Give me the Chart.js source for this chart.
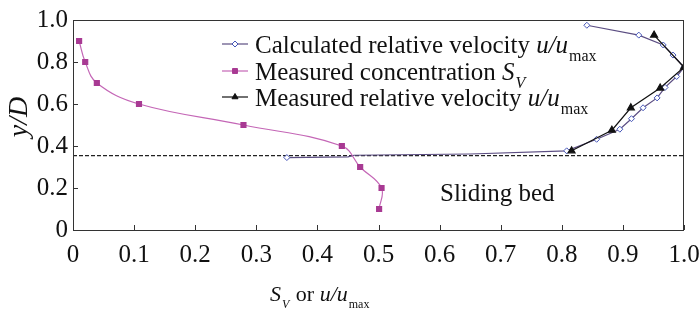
<!DOCTYPE html>
<html>
<head>
<meta charset="utf-8">
<script src="https://cdn.jsdelivr.net/npm/chart.js@4/dist/chart.umd.min.js"></script>
<style>
  html, body { margin: 0; padding: 0; background: #fff; }
  #wrap { width: 700px; height: 311px; }
</style>
</head>
<body>
<div id="wrap"><canvas id="profileChart"></canvas></div>
<script>
// measured concentration S_V vs y/D
const concX = [0.01, 0.02, 0.039, 0.108, 0.279, 0.44, 0.47, 0.505, 0.501];
const concY = [0.9, 0.8, 0.7, 0.6, 0.5, 0.4, 0.3, 0.2, 0.1];

// calculated relative velocity u/umax (points without marker are only on the line)
const calcX = [0.35, 0.45, 0.46, 0.65, 0.808, 0.857, 0.895, 0.914, 0.933, 0.956, 0.969, 0.988, 1.0, 0.982, 0.966, 0.926, 0.841];
const calcY = [0.345, 0.348, 0.356, 0.362, 0.377, 0.432, 0.48, 0.53, 0.582, 0.629, 0.679, 0.731, 0.775, 0.833, 0.881, 0.928, 0.975];
const calcMarker = [1, 0, 0, 0, 1, 1, 1, 1, 1, 1, 1, 1, 1, 1, 1, 1, 1];

// measured relative velocity u/umax
const measX = [0.816, 0.882, 0.913, 0.961, 1.0, 0.951];
const measY = [0.377, 0.475, 0.582, 0.676, 0.775, 0.928];

// sliding bed boundary
const bedLevel = 0.354;

const xTicks = [0, 0.1, 0.2, 0.3, 0.4, 0.5, 0.6, 0.7, 0.8, 0.9, 1.0];
const yTicks = [0, 0.2, 0.4, 0.6, 0.8, 1.0];

const SERIF = '"Liberation Serif", "DejaVu Serif", serif';
const pts = (xs, ys) => xs.map((x, i) => ({x: x, y: ys[i]}));

// draw text runs: plain / italic / subscript
function drawRuns(ctx, runs, x, y, size, subRatio) {
  const k = subRatio || 0.62;
  ctx.textBaseline = 'alphabetic';
  ctx.textAlign = 'left';
  runs.forEach(r => {
    const s = r.sub ? Math.round(size * k) : size;
    ctx.font = (r.i ? 'italic ' : '') + s + 'px ' + SERIF;
    ctx.fillText(r.t, x, y + (r.sub ? size * 0.3 : 0));
    x += ctx.measureText(r.t).width + (r.i ? 1 : 0);
  });
}

const decor = {
  id: 'decor',
  afterDraw(chart) {
    const ctx = chart.ctx;
    const a = chart.chartArea;
    const xs = chart.scales.x, ys = chart.scales.y;
    ctx.save();
    // box
    ctx.strokeStyle = '#333';
    ctx.lineWidth = 1;
    ctx.strokeRect(a.left + 0.5, a.top + 0.5, a.right - a.left - 1, a.bottom - a.top);
    // inward ticks
    ctx.beginPath();
    xTicks.forEach(v => {
      const px = Math.round(xs.getPixelForValue(v)) + 0.5;
      ctx.moveTo(px, a.bottom); ctx.lineTo(px, a.bottom - 5);
    });
    yTicks.forEach(v => {
      const py = Math.round(ys.getPixelForValue(v)) + 0.5;
      ctx.moveTo(a.left, py); ctx.lineTo(a.left + 5, py);
    });
    ctx.stroke();

    ctx.fillStyle = '#111';
    // sliding bed label
    drawRuns(ctx, [{t: 'Sliding bed'}], 440, 201, 25);

    // legend
    const rows = [
      {ds: 0, y: 44, runs: [{t: 'Calculated relative velocity '}, {t: 'u/u', i: true}, {t: 'max', sub: true}]},
      {ds: 1, y: 71, runs: [{t: 'Measured concentration '}, {t: 'S', i: true}, {t: 'V', i: true, sub: true}]},
      {ds: 2, y: 97, runs: [{t: 'Measured relative velocity '}, {t: 'u/u', i: true}, {t: 'max', sub: true}]}
    ];
    rows.forEach(r => {
      const d = chart.data.datasets[r.ds];
      ctx.strokeStyle = d.borderColor;
      ctx.lineWidth = 1.2;
      ctx.beginPath();
      ctx.moveTo(222, r.y); ctx.lineTo(248, r.y);
      ctx.stroke();
      ctx.fillStyle = d.pointBackgroundColor;
      ctx.strokeStyle = d.pointBorderColor;
      ctx.lineWidth = 1;
      Chart.helpers.drawPoint(ctx, {pointStyle: d.pointStyle, radius: d.legendRadius, borderWidth: 1}, 235, r.y);
      ctx.fillStyle = '#111';
      drawRuns(ctx, r.runs, 255, r.y + 9, 25);
    });

    // axis titles
    drawRuns(ctx, [{t: 'S', i: true}, {t: 'V', i: true, sub: true}, {t: ' or '}, {t: 'u/u', i: true}, {t: 'max', sub: true}], 270, 301, 22, 0.55);
    ctx.translate(27, 117);
    ctx.rotate(-Math.PI / 2);
    ctx.textAlign = 'center';
    ctx.font = 'italic 28px ' + SERIF;
    ctx.fillText('y/D', 0, 0);
    ctx.restore();
  }
};

new Chart(document.getElementById('profileChart'), {
  type: 'scatter',
  data: {
    datasets: [
      {
        label: 'Calculated relative velocity',
        data: pts(calcX, calcY),
        showLine: true,
        borderColor: '#5b4d82',
        borderWidth: 1.2,
        pointStyle: 'rectRot',
        pointRadius: ctx => calcMarker[ctx.dataIndex] ? 3 : 0,
        legendRadius: 3,
        pointBackgroundColor: '#ffffff',
        pointBorderColor: '#4656b8',
        pointBorderWidth: 1,
        order: 2
      },
      {
        label: 'Measured concentration',
        data: pts(concX, concY),
        showLine: true,
        tension: 0.4,
        borderColor: '#c466b6',
        borderWidth: 1.2,
        pointStyle: 'rect',
        pointRadius: 3.5,
        legendRadius: 3.5,
        pointBackgroundColor: '#a83a93',
        pointBorderColor: '#a83a93',
        order: 1
      },
      {
        label: 'Measured relative velocity',
        data: pts(measX, measY),
        showLine: true,
        borderColor: '#111111',
        borderWidth: 1.2,
        pointStyle: 'triangle',
        pointRadius: 4,
        legendRadius: 3.5,
        pointBackgroundColor: '#111111',
        pointBorderColor: '#111111',
        order: 0
      },
      {
        label: 'bed',
        data: [{x: 0, y: bedLevel}, {x: 1, y: bedLevel}],
        showLine: true,
        borderColor: '#222',
        borderWidth: 1.2,
        borderDash: [4, 2],
        pointRadius: 0,
        order: 3
      }
    ]
  },
  options: {
    responsive: true,
    maintainAspectRatio: false,
    animation: false,
    layout: { padding: { left: 0, right: 0, top: 18, bottom: 0 } },
    plugins: {
      legend: { display: false },
      tooltip: { enabled: false }
    },
    scales: {
      x: {
        type: 'linear',
        min: 0,
        max: 1,
        afterFit: s => { s.height = 81; s.paddingRight = 16; s.paddingLeft = 0; },
        afterBuildTicks: s => { s.ticks = xTicks.map(v => ({value: v})); },
        grid: { display: false, drawTicks: false },
        border: { display: false },
        ticks: {
          color: '#111',
          padding: 10,
          font: { family: SERIF, size: 25 },
          callback: v => v === 0 ? '0' : v.toFixed(1)
        }
      },
      y: {
        type: 'linear',
        min: 0,
        max: 1,
        afterFit: s => { s.width = 73; },
        afterBuildTicks: s => { s.ticks = yTicks.map(v => ({value: v})); },
        grid: { display: false, drawTicks: false },
        border: { display: false },
        ticks: {
          color: '#111',
          padding: 5,
          font: { family: SERIF, size: 25 },
          callback: v => v === 0 ? '0' : v.toFixed(1)
        }
      }
    }
  },
  plugins: [decor]
});
</script>
</body>
</html>
